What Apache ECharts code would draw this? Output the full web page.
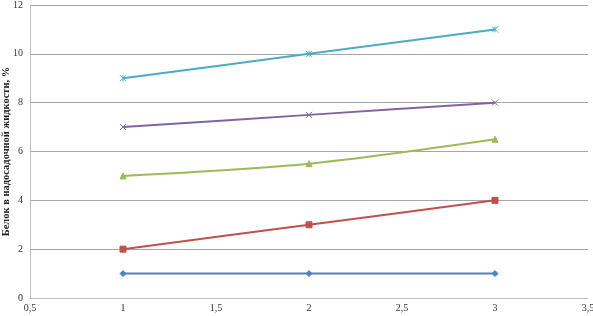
<!DOCTYPE html>
<html><head><meta charset="utf-8">
<script src="https://cdn.jsdelivr.net/npm/echarts@6/dist/echarts.min.js"></script>
<style>html,body{margin:0;padding:0;background:#fff}#c{width:593px;height:316px}</style>
</head><body><div id="c"></div>
<script>
const xValues = [1, 2, 3];
const s1 = [1, 1, 1];
const s2 = [2, 3, 4];
const s3 = [5, 5.5, 6.5];
const s4 = [7, 7.5, 8];
const s5 = [9, 10, 11];
const yAxisName = 'Белок в надосадочной жидкости, %';

const xPath = 'path://M0,0L10,10M10,0L0,10';
const starPath = 'path://M0,0L10,10M10,0L0,10M5,0L5,10';
function pts(arr){ return xValues.map((x,i)=>[x, arr[i]]); }
const defs = [
  {d:s1, c:'#4F81BD', sym:'diamond', size:6},
  {d:s2, c:'#C0504D', sym:'rect', size:6},
  {d:s3, c:'#9BBB59', sym:'triangle', size:6},
  {d:s4, c:'#8064A2', sym:xPath, size:6},
  {d:s5, c:'#4BACC6', sym:starPath, size:6}
];
const chart = echarts.init(document.getElementById('c'));
chart.setOption({
  animation:false,
  grid:{left:30, right:5, top:5, bottom:18, containLabel:false, outerBoundsMode:'none'},
  xAxis:{type:'value', min:0.5, max:3.5, interval:0.5,
    axisLine:{show:true, lineStyle:{color:'#bfbfbf'}}, axisTick:{show:false},
    splitLine:{show:false},
    axisLabel:{color:'#333', fontFamily:'Liberation Serif', fontSize:10, margin:5,
      formatter:v=>String(v).replace('.',',')}},
  yAxis:{type:'value', min:0, max:12, interval:2,
    name:yAxisName, nameLocation:'middle', nameGap:18, nameRotate:90,
    nameMoveOverlap:false,
    nameTextStyle:{fontFamily:'Liberation Serif', fontSize:10.5, fontWeight:'bold', color:'#222'},
    axisLine:{show:true, lineStyle:{color:'#bfbfbf'}}, axisTick:{show:false},
    splitLine:{lineStyle:{color:'#a6a6a6', width:1}},
    axisLabel:{color:'#333', fontFamily:'Liberation Serif', fontSize:10, margin:7}},
  series: defs.map(o=>({
    type:'line', data:pts(o.d), smooth:0.3, symbol:o.sym, symbolSize:o.size,
    showAllSymbol:true,
    lineStyle:{color:o.c, width:2},
    itemStyle:{color:o.c, borderColor:o.c, borderWidth:1}
  }))
});
</script></body></html>
